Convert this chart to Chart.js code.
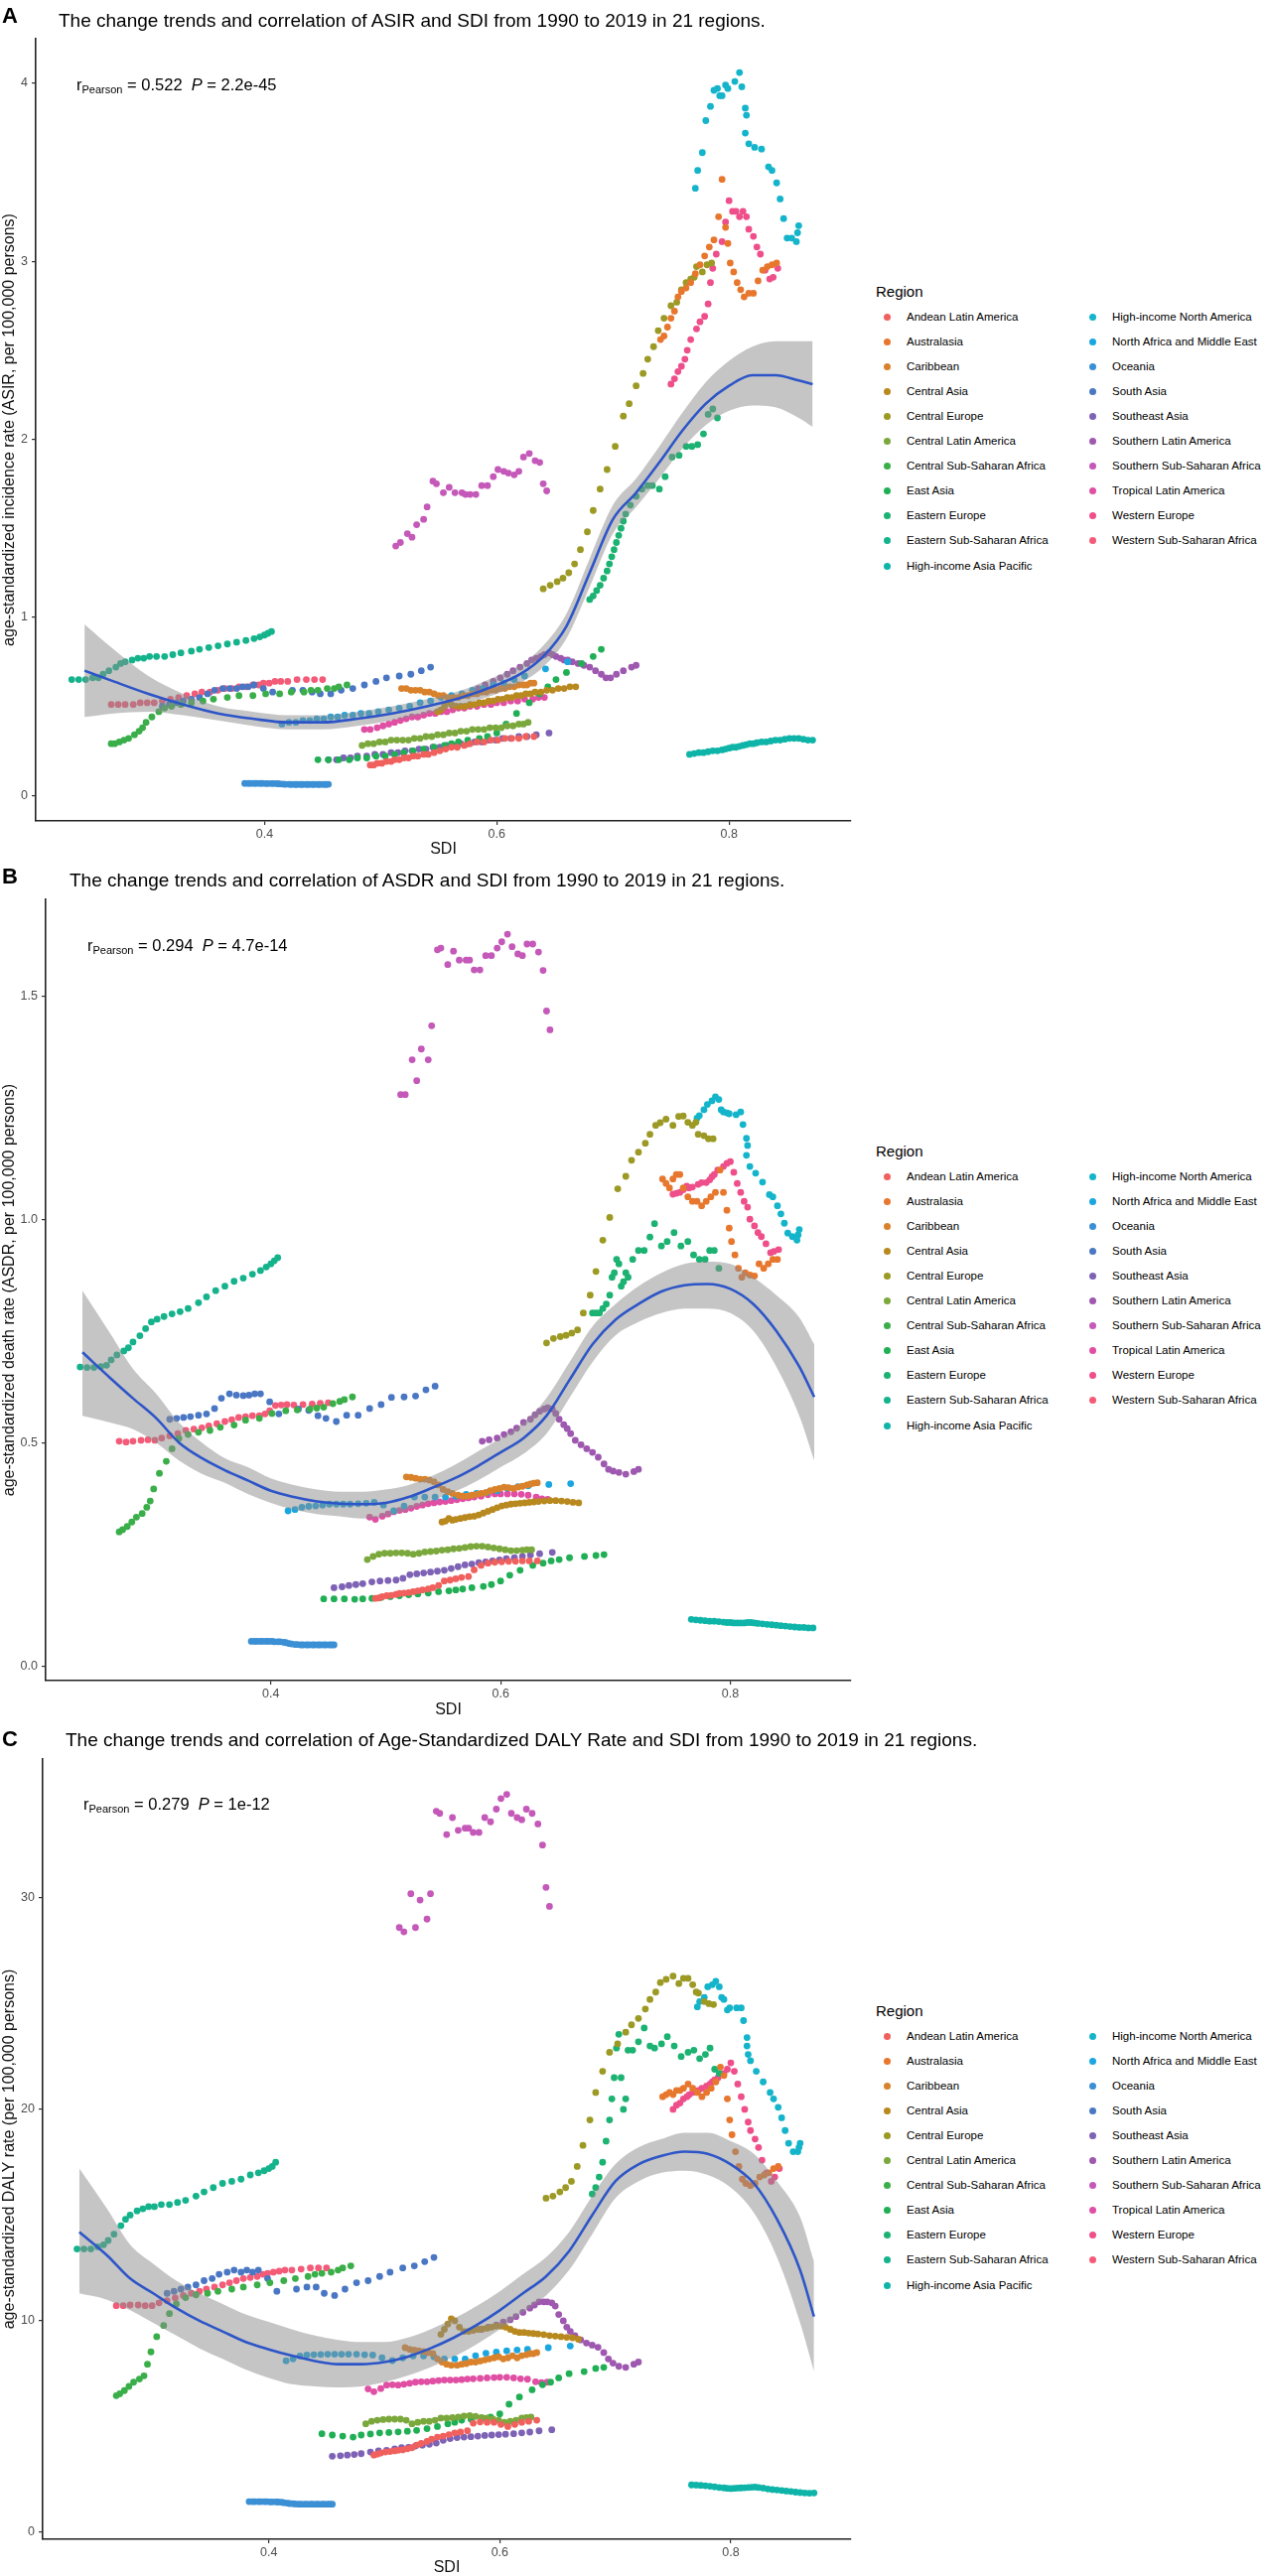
<!DOCTYPE html>
<html>
<head>
<meta charset="utf-8">
<script src="https://cdn.jsdelivr.net/npm/chart.js@4.4.0/dist/chart.umd.min.js"></script>
<style>
  body { margin: 0; width: 1279px; height: 2595px; overflow: hidden; background: #fff;
         font-family: "Liberation Sans", Arial, Helvetica, sans-serif; position: relative; color: #000; }
  canvas { position: absolute; left: 0; }
  .letter { position: absolute; left: 2px; font-weight: bold; font-size: 22px; line-height: 22px; }
  .title { position: absolute; font-size: 19px; line-height: 19px; white-space: nowrap; }
  .stat { position: absolute; font-size: 16.5px; line-height: 16px; white-space: nowrap; }
  .stat sub { font-size: 11px; vertical-align: -3px; }
  .leg { position: absolute; white-space: nowrap; }
  .legtitle { font-size: 15px; line-height: 15px; }
  .legitem { font-size: 11.5px; line-height: 13px; }
  .dot { position: absolute; width: 7px; height: 7px; border-radius: 50%; }
</style>
</head>
<body>
<canvas id="cA" width="870" height="867" style="top:0px"></canvas>
<canvas id="cB" width="870" height="867" style="top:866px"></canvas>
<canvas id="cC" width="870" height="863" style="top:1732px"></canvas>

<div class="letter" style="top:5px">A</div>
<div class="letter" style="top:872px">B</div>
<div class="letter" style="top:1741px">C</div>
<div class="title" style="left:59px; top:11px">The change trends and correlation of ASIR and SDI from 1990 to 2019 in 21 regions.</div>
<div class="title" style="left:70px; top:877px">The change trends and correlation of ASDR and SDI from 1990 to 2019 in 21 regions.</div>
<div class="title" style="left:66px; top:1743px">The change trends and correlation of Age-Standardized DALY Rate and SDI from 1990 to 2019 in 21 regions.</div>
<div class="stat" style="left:77px; top:77px">r<sub>Pearson</sub> = 0.522&nbsp; <i>P</i> = 2.2e-45</div>
<div class="stat" style="left:88px; top:944px">r<sub>Pearson</sub> = 0.294&nbsp; <i>P</i> = 4.7e-14</div>
<div class="stat" style="left:84px; top:1809px">r<sub>Pearson</sub> = 0.279&nbsp; <i>P</i> = 1e-12</div>

<script>
const FONT = '"Liberation Sans", Arial, Helvetica, sans-serif';

const regions = ["Andean Latin America", "Australasia", "Caribbean", "Central Asia", "Central Europe",
  "Central Latin America", "Central Sub-Saharan Africa", "East Asia", "Eastern Europe",
  "Eastern Sub-Saharan Africa", "High-income Asia Pacific", "High-income North America",
  "North Africa and Middle East", "Oceania", "South Asia", "Southeast Asia", "Southern Latin America",
  "Southern Sub-Saharan Africa", "Tropical Latin America", "Western Europe", "Western Sub-Saharan Africa"];
const colors = ["#F0605D", "#E8772E", "#D9822B", "#B8891E", "#9C9A24", "#7BA83C", "#3AAE49", "#20AF55",
  "#1BB272", "#14B38C", "#0FB4A8", "#14B4CB", "#1BA6E0", "#3B8FD4", "#4A77C4", "#7E62B5", "#9E58B0",
  "#C459B9", "#E04FA3", "#EE4F8A", "#F35B78"];

// SDI per region, 1990-2019
const sdiAndean = [0.491,0.494,0.497,0.501,0.505,0.509,0.512,0.516,0.520,0.524,0.528,0.532,0.537,0.541,0.546,0.551,0.556,0.561,0.566,0.572,0.577,0.583,0.589,0.595,0.601,0.607,0.613,0.619,0.625,0.632];
const sdiAustralasia = [0.741,0.744,0.747,0.750,0.753,0.756,0.759,0.763,0.767,0.771,0.775,0.779,0.783,0.787,0.791,0.794,0.797,0.799,0.801,0.804,0.807,0.810,0.813,0.817,0.821,0.825,0.829,0.833,0.837,0.841];
const sdiCaribbean = [0.518,0.522,0.526,0.530,0.534,0.538,0.542,0.546,0.550,0.554,0.558,0.563,0.567,0.571,0.575,0.579,0.583,0.587,0.591,0.595,0.599,0.603,0.607,0.611,0.615,0.619,0.623,0.626,0.629,0.632];
const sdiCentralAsia = [0.549,0.552,0.555,0.558,0.561,0.565,0.569,0.573,0.577,0.581,0.585,0.589,0.593,0.597,0.601,0.605,0.609,0.613,0.617,0.621,0.625,0.629,0.633,0.638,0.643,0.648,0.653,0.658,0.663,0.668];
const sdiCentralEurope = [0.640,0.646,0.652,0.657,0.662,0.667,0.672,0.678,0.683,0.689,0.695,0.702,0.709,0.714,0.720,0.726,0.730,0.735,0.739,0.744,0.750,0.755,0.759,0.763,0.767,0.770,0.772,0.777,0.781,0.785];
const sdiCentralLatAm = [0.484,0.489,0.494,0.499,0.504,0.509,0.514,0.519,0.524,0.529,0.534,0.539,0.544,0.549,0.554,0.559,0.564,0.569,0.574,0.579,0.584,0.589,0.594,0.599,0.604,0.609,0.614,0.619,0.623,0.627];
const sdiCentralSSA = [0.268,0.271,0.275,0.279,0.283,0.288,0.292,0.295,0.298,0.303,0.309,0.314,0.320,0.328,0.337,0.347,0.356,0.368,0.378,0.390,0.401,0.413,0.423,0.434,0.440,0.446,0.454,0.460,0.464,0.471];
const sdiEastAsia = [0.446,0.455,0.464,0.473,0.480,0.488,0.496,0.504,0.512,0.520,0.528,0.537,0.546,0.555,0.561,0.567,0.575,0.585,0.592,0.600,0.608,0.617,0.628,0.637,0.644,0.651,0.660,0.673,0.683,0.690];
const sdiEasternEurope = [0.680,0.683,0.686,0.689,0.692,0.695,0.697,0.699,0.701,0.703,0.705,0.707,0.709,0.711,0.715,0.720,0.725,0.730,0.734,0.740,0.745,0.751,0.757,0.763,0.768,0.773,0.778,0.782,0.786,0.790];
const sdiEasternSSA = [0.234,0.240,0.246,0.252,0.257,0.261,0.266,0.272,0.276,0.280,0.286,0.291,0.296,0.301,0.307,0.314,0.321,0.328,0.337,0.344,0.352,0.360,0.368,0.376,0.384,0.391,0.396,0.400,0.403,0.406];
const sdiHiAsiaPac = [0.766,0.770,0.774,0.778,0.782,0.786,0.790,0.794,0.797,0.800,0.803,0.806,0.809,0.812,0.815,0.818,0.821,0.824,0.828,0.832,0.836,0.840,0.844,0.848,0.852,0.856,0.860,0.864,0.868,0.872];
const sdiHiNorthAm = [0.771,0.773,0.777,0.780,0.784,0.787,0.790,0.792,0.794,0.797,0.799,0.805,0.809,0.811,0.814,0.814,0.815,0.817,0.822,0.828,0.834,0.837,0.841,0.844,0.847,0.850,0.854,0.858,0.859,0.860];
const sdiNorthAfricaME = [0.415,0.421,0.427,0.433,0.439,0.445,0.451,0.457,0.463,0.469,0.476,0.483,0.490,0.498,0.507,0.516,0.525,0.534,0.543,0.552,0.561,0.570,0.579,0.588,0.597,0.606,0.615,0.624,0.642,0.661];
const sdiOceania = [0.383,0.386,0.388,0.391,0.393,0.396,0.398,0.401,0.403,0.406,0.408,0.411,0.413,0.416,0.418,0.421,0.423,0.426,0.428,0.431,0.433,0.436,0.438,0.441,0.443,0.446,0.448,0.451,0.453,0.455];
const sdiSouthAsia = [0.312,0.318,0.324,0.330,0.337,0.344,0.351,0.357,0.364,0.370,0.376,0.381,0.386,0.391,0.399,0.407,0.424,0.433,0.441,0.448,0.457,0.466,0.476,0.486,0.496,0.505,0.516,0.526,0.535,0.543];
const sdiSoutheastAsia = [0.455,0.462,0.468,0.474,0.480,0.488,0.495,0.502,0.509,0.515,0.521,0.527,0.533,0.539,0.545,0.551,0.557,0.563,0.569,0.575,0.581,0.587,0.593,0.599,0.605,0.612,0.619,0.626,0.634,0.645];
const sdiSouthernLatAm = [0.584,0.590,0.597,0.603,0.609,0.614,0.620,0.626,0.630,0.634,0.638,0.641,0.645,0.648,0.651,0.655,0.658,0.661,0.665,0.670,0.675,0.680,0.685,0.690,0.694,0.698,0.703,0.709,0.716,0.720];
const sdiSouthernSSA = [0.513,0.517,0.523,0.527,0.531,0.537,0.540,0.545,0.548,0.554,0.559,0.564,0.570,0.573,0.577,0.582,0.587,0.592,0.597,0.601,0.606,0.610,0.615,0.619,0.623,0.628,0.633,0.637,0.640,0.643];
const sdiTropicalLatAm = [0.486,0.491,0.497,0.502,0.507,0.512,0.517,0.522,0.527,0.532,0.537,0.542,0.547,0.552,0.557,0.562,0.567,0.572,0.577,0.583,0.589,0.595,0.600,0.606,0.612,0.618,0.624,0.631,0.636,0.641];
const sdiWesternEurope = [0.750,0.753,0.756,0.759,0.762,0.764,0.767,0.772,0.775,0.779,0.782,0.784,0.786,0.789,0.794,0.797,0.800,0.803,0.806,0.809,0.812,0.815,0.817,0.821,0.824,0.827,0.831,0.835,0.838,0.842];
const sdiWesternSSA = [0.268,0.274,0.280,0.287,0.293,0.299,0.305,0.312,0.319,0.326,0.333,0.340,0.346,0.353,0.360,0.366,0.372,0.378,0.384,0.390,0.395,0.399,0.404,0.409,0.414,0.420,0.428,0.436,0.443,0.450];

// ASIR (panel A)
const asirAndean = [0.17,0.17,0.18,0.18,0.19,0.19,0.20,0.20,0.21,0.21,0.22,0.22,0.23,0.23,0.24,0.25,0.26,0.27,0.27,0.28,0.29,0.30,0.30,0.31,0.31,0.32,0.32,0.32,0.33,0.33];
const asirAustralasia = [2.56,2.58,2.63,2.68,2.72,2.80,2.83,2.85,2.88,2.93,2.98,3.03,3.08,3.12,3.25,3.46,3.19,3.10,2.99,2.94,2.88,2.84,2.80,2.82,2.82,2.89,2.95,2.97,2.98,2.99];
const asirCaribbean = [0.60,0.60,0.59,0.59,0.59,0.58,0.58,0.57,0.56,0.56,0.55,0.55,0.55,0.56,0.56,0.57,0.57,0.58,0.58,0.59,0.59,0.60,0.60,0.61,0.61,0.62,0.62,0.62,0.63,0.63];
const asirCentralAsia = [0.47,0.48,0.50,0.52,0.51,0.50,0.50,0.50,0.51,0.51,0.52,0.52,0.53,0.53,0.54,0.54,0.55,0.55,0.56,0.56,0.57,0.57,0.58,0.58,0.59,0.59,0.60,0.60,0.61,0.61];
const asirCentralEurope = [1.16,1.18,1.20,1.22,1.25,1.30,1.38,1.48,1.60,1.72,1.83,1.96,2.13,2.20,2.30,2.37,2.45,2.52,2.61,2.68,2.75,2.77,2.84,2.88,2.90,2.91,2.97,2.94,2.98,2.99];
const asirCentralLatAm = [0.28,0.29,0.29,0.30,0.30,0.31,0.31,0.31,0.31,0.32,0.32,0.33,0.33,0.34,0.34,0.35,0.35,0.36,0.36,0.37,0.37,0.37,0.38,0.38,0.38,0.39,0.39,0.40,0.40,0.41];
const asirCentralSSA = [0.29,0.29,0.30,0.31,0.32,0.34,0.36,0.38,0.41,0.44,0.47,0.49,0.50,0.51,0.52,0.53,0.54,0.55,0.56,0.56,0.57,0.57,0.58,0.58,0.59,0.59,0.60,0.60,0.61,0.62];
const asirEastAsia = [0.20,0.20,0.20,0.20,0.21,0.21,0.22,0.22,0.23,0.24,0.25,0.26,0.27,0.28,0.29,0.30,0.31,0.32,0.33,0.35,0.40,0.46,0.52,0.57,0.61,0.65,0.69,0.74,0.78,0.82];
const asirEasternEurope = [1.10,1.12,1.15,1.18,1.22,1.26,1.30,1.34,1.38,1.42,1.46,1.50,1.54,1.58,1.63,1.68,1.72,1.74,1.74,1.72,1.79,1.90,1.91,1.96,1.96,1.97,2.03,2.14,2.17,2.12];
const asirEasternSSA = [0.65,0.65,0.65,0.66,0.66,0.68,0.70,0.72,0.74,0.75,0.76,0.77,0.77,0.78,0.78,0.78,0.79,0.80,0.81,0.82,0.83,0.84,0.85,0.86,0.87,0.88,0.89,0.90,0.91,0.92];
const asirHiAsiaPac = [0.230,0.235,0.240,0.240,0.245,0.250,0.250,0.255,0.260,0.265,0.270,0.270,0.275,0.280,0.285,0.290,0.290,0.295,0.300,0.300,0.305,0.310,0.310,0.315,0.320,0.320,0.320,0.315,0.310,0.310];
const asirHiNorthAm = [3.41,3.51,3.61,3.79,3.87,3.96,3.97,3.93,3.93,3.99,3.97,4.01,4.06,3.98,3.86,3.72,3.82,3.66,3.64,3.63,3.53,3.51,3.44,3.35,3.24,3.13,3.13,3.11,3.16,3.20];
const asirNorthAfricaME = [0.40,0.41,0.41,0.42,0.42,0.43,0.43,0.44,0.44,0.45,0.45,0.46,0.46,0.47,0.48,0.49,0.50,0.52,0.53,0.55,0.56,0.57,0.59,0.60,0.62,0.63,0.65,0.67,0.71,0.75];
const asirOceania = [0.067,0.067,0.067,0.067,0.067,0.067,0.067,0.066,0.066,0.066,0.066,0.065,0.064,0.063,0.062,0.062,0.061,0.061,0.061,0.061,0.061,0.061,0.061,0.061,0.061,0.061,0.061,0.061,0.061,0.062];
const asirSouthAsia = [0.50,0.51,0.52,0.53,0.54,0.55,0.57,0.59,0.60,0.60,0.60,0.61,0.61,0.62,0.60,0.58,0.59,0.59,0.58,0.57,0.57,0.59,0.60,0.62,0.64,0.66,0.67,0.68,0.70,0.72];
const asirSoutheastAsia = [0.20,0.20,0.21,0.21,0.22,0.22,0.23,0.23,0.24,0.24,0.25,0.25,0.26,0.26,0.27,0.27,0.28,0.28,0.29,0.29,0.30,0.30,0.31,0.31,0.32,0.32,0.33,0.33,0.34,0.35];
const asirSouthernLatAm = [0.60,0.62,0.64,0.66,0.68,0.70,0.72,0.74,0.76,0.77,0.78,0.79,0.80,0.79,0.78,0.77,0.76,0.76,0.75,0.74,0.73,0.72,0.70,0.68,0.66,0.66,0.68,0.70,0.72,0.73];
const asirSouthernSSA = [1.40,1.42,1.47,1.45,1.52,1.55,1.62,1.765,1.75,1.70,1.73,1.70,1.70,1.69,1.69,1.69,1.74,1.74,1.79,1.83,1.82,1.81,1.80,1.82,1.90,1.92,1.88,1.87,1.75,1.71];
const asirTropicalLatAm = [0.37,0.37,0.38,0.39,0.40,0.41,0.42,0.43,0.44,0.44,0.45,0.46,0.46,0.47,0.47,0.48,0.49,0.49,0.50,0.50,0.51,0.51,0.52,0.52,0.53,0.53,0.54,0.54,0.55,0.55];
const asirWesternEurope = [2.31,2.34,2.38,2.41,2.45,2.50,2.56,2.62,2.66,2.69,2.76,2.88,2.96,3.04,3.11,3.22,3.34,3.28,3.28,3.25,3.28,3.25,3.18,3.14,3.08,3.04,2.95,2.90,2.91,2.96];
const asirWesternSSA = [0.51,0.51,0.51,0.51,0.52,0.52,0.52,0.53,0.54,0.55,0.56,0.57,0.58,0.58,0.59,0.60,0.60,0.61,0.61,0.62,0.62,0.63,0.63,0.64,0.64,0.64,0.65,0.65,0.65,0.65];

// ASDR (panel B)
const asdrAndean = [0.151,0.152,0.155,0.157,0.158,0.160,0.162,0.163,0.164,0.166,0.168,0.170,0.172,0.175,0.180,0.190,0.192,0.195,0.198,0.200,0.215,0.225,0.230,0.232,0.233,0.234,0.234,0.235,0.235,0.235];
const asdrAustralasia = [1.09,1.08,1.07,1.09,1.10,1.10,1.07,1.05,1.04,1.04,1.03,1.04,1.05,1.06,1.11,1.06,1.02,0.98,0.95,0.92,0.89,0.87,0.88,0.875,0.873,0.90,0.89,0.90,0.91,0.91];
const asdrCaribbean = [0.423,0.422,0.420,0.418,0.418,0.416,0.412,0.405,0.395,0.390,0.386,0.382,0.380,0.380,0.382,0.384,0.386,0.388,0.392,0.395,0.397,0.400,0.399,0.397,0.400,0.402,0.405,0.407,0.409,0.410];
const asdrCentralAsia = [0.322,0.324,0.330,0.326,0.328,0.330,0.332,0.334,0.335,0.338,0.342,0.346,0.350,0.354,0.358,0.360,0.362,0.363,0.364,0.365,0.366,0.367,0.368,0.369,0.370,0.370,0.369,0.368,0.366,0.365];
const asdrCentralEurope = [0.723,0.733,0.737,0.740,0.745,0.752,0.790,0.830,0.883,0.953,1.004,1.068,1.096,1.132,1.150,1.170,1.190,1.210,1.216,1.224,1.210,1.230,1.231,1.217,1.210,1.217,1.190,1.187,1.180,1.180];
const asdrCentralLatAm = [0.238,0.245,0.250,0.252,0.252,0.253,0.253,0.252,0.250,0.252,0.255,0.256,0.257,0.259,0.260,0.262,0.263,0.265,0.267,0.268,0.268,0.266,0.264,0.262,0.260,0.258,0.258,0.259,0.260,0.260];
const asdrCentralSSA = [0.300,0.305,0.312,0.322,0.333,0.341,0.355,0.369,0.396,0.431,0.458,0.486,0.509,0.518,0.523,0.527,0.534,0.539,0.550,0.554,0.565,0.571,0.573,0.575,0.577,0.579,0.587,0.592,0.596,0.602];
const asdrEastAsia = [0.150,0.150,0.150,0.149,0.150,0.151,0.153,0.155,0.157,0.159,0.161,0.163,0.166,0.168,0.170,0.172,0.175,0.178,0.182,0.190,0.203,0.214,0.225,0.230,0.235,0.238,0.242,0.245,0.247,0.249];
const asdrEasternEurope = [0.79,0.79,0.79,0.80,0.81,0.83,0.87,0.88,0.91,0.90,0.85,0.86,0.88,0.87,0.91,0.93,0.93,0.96,0.99,0.94,0.95,0.97,0.94,0.95,0.92,0.91,0.91,0.93,0.93,0.89];
const asdrEasternSSA = [0.669,0.668,0.668,0.670,0.673,0.685,0.696,0.705,0.712,0.725,0.739,0.755,0.770,0.776,0.782,0.788,0.793,0.800,0.813,0.826,0.840,0.850,0.861,0.868,0.877,0.885,0.893,0.900,0.907,0.914];
const asdrHiAsiaPac = [0.104,0.103,0.102,0.101,0.100,0.100,0.099,0.098,0.097,0.097,0.096,0.096,0.096,0.096,0.097,0.097,0.096,0.095,0.094,0.093,0.092,0.091,0.090,0.089,0.088,0.087,0.086,0.086,0.085,0.085];
const asdrHiNorthAm = [1.226,1.232,1.245,1.257,1.265,1.274,1.268,1.245,1.240,1.238,1.236,1.234,1.240,1.212,1.181,1.143,1.165,1.118,1.103,1.083,1.055,1.050,1.030,1.012,0.991,0.969,0.961,0.953,0.965,0.977];
const asdrNorthAfricaME = [0.347,0.350,0.355,0.357,0.358,0.360,0.362,0.362,0.362,0.362,0.363,0.364,0.366,0.360,0.347,0.358,0.378,0.378,0.378,0.378,0.380,0.384,0.386,0.388,0.392,0.398,0.401,0.403,0.406,0.408];
const asdrOceania = [0.055,0.055,0.055,0.055,0.055,0.055,0.055,0.055,0.054,0.054,0.054,0.053,0.052,0.050,0.049,0.048,0.048,0.047,0.047,0.047,0.047,0.047,0.047,0.047,0.047,0.047,0.047,0.047,0.047,0.047];
const asdrSouthAsia = [0.552,0.554,0.556,0.558,0.561,0.564,0.576,0.599,0.609,0.606,0.605,0.606,0.609,0.609,0.591,0.564,0.575,0.572,0.560,0.554,0.547,0.561,0.561,0.576,0.585,0.601,0.602,0.604,0.618,0.626];
const asdrSoutheastAsia = [0.175,0.177,0.180,0.182,0.184,0.188,0.190,0.191,0.192,0.196,0.204,0.206,0.208,0.210,0.212,0.214,0.218,0.222,0.226,0.228,0.231,0.233,0.235,0.237,0.240,0.242,0.245,0.248,0.251,0.254];
const asdrSouthernLatAm = [0.503,0.506,0.510,0.518,0.524,0.532,0.545,0.552,0.562,0.570,0.575,0.578,0.575,0.565,0.552,0.540,0.531,0.520,0.505,0.495,0.486,0.478,0.467,0.452,0.440,0.436,0.433,0.429,0.435,0.440];
const asdrSouthernSSA = [1.279,1.279,1.357,1.310,1.381,1.357,1.433,1.603,1.607,1.570,1.600,1.580,1.580,1.580,1.558,1.558,1.590,1.590,1.607,1.621,1.638,1.610,1.594,1.590,1.616,1.616,1.598,1.557,1.466,1.424];
const asdrTropicalLatAm = [0.333,0.328,0.335,0.340,0.345,0.348,0.350,0.353,0.357,0.360,0.363,0.365,0.367,0.368,0.370,0.372,0.374,0.376,0.378,0.380,0.383,0.385,0.385,0.385,0.385,0.384,0.382,0.378,0.374,0.373];
const asdrWesternEurope = [1.056,1.058,1.060,1.066,1.074,1.070,1.072,1.078,1.082,1.082,1.088,1.095,1.100,1.110,1.118,1.125,1.129,1.105,1.080,1.060,1.040,1.027,1.000,0.985,0.970,0.961,0.945,0.925,0.928,0.932];
const asdrWesternSSA = [0.503,0.501,0.503,0.505,0.506,0.505,0.510,0.515,0.520,0.527,0.530,0.533,0.537,0.542,0.547,0.551,0.556,0.558,0.560,0.560,0.564,0.571,0.583,0.584,0.585,0.584,0.585,0.586,0.588,0.589];

// Age-standardized DALY rate (panel C)
const dalyAndean = [3.65,3.70,3.75,3.80,3.82,3.85,3.88,3.90,3.95,4.00,4.12,4.20,4.30,4.40,4.50,4.55,4.62,4.70,4.74,4.80,5.16,5.22,5.20,5.20,5.10,5.00,5.10,5.20,5.25,5.30];
const dalyAustralasia = [20.6,20.7,20.8,20.7,20.9,20.9,21.0,21.2,21.0,20.8,20.6,20.8,21.0,21.3,22.0,21.6,20.5,19.5,18.8,18.0,17.3,16.7,16.5,16.4,16.5,16.8,16.9,17.0,17.2,17.3];
const dalyCaribbean = [8.73,8.65,8.62,8.58,8.55,8.50,8.45,8.20,8.05,7.95,7.90,7.90,7.95,7.98,8.05,8.05,8.10,8.15,8.20,8.25,8.30,8.20,8.25,8.35,8.25,8.35,8.40,8.45,8.45,8.50];
const dalyCentralAsia = [9.36,9.60,9.85,10.10,10.00,9.70,9.50,9.50,9.55,9.60,9.62,9.65,9.70,9.75,9.75,9.70,9.60,9.50,9.45,9.45,9.42,9.40,9.38,9.35,9.30,9.28,9.25,9.22,9.20,9.13];
const dalyCentralEurope = [15.8,15.9,16.1,16.3,16.6,17.3,18.3,19.5,20.8,21.8,22.7,23.1,23.65,24.0,24.3,24.75,25.2,25.55,26.0,26.15,26.3,25.95,26.2,26.2,25.9,25.55,25.5,25.1,25.0,24.96];
const dalyCentralLatAm = [5.13,5.25,5.30,5.33,5.35,5.35,5.35,5.30,5.13,5.20,5.25,5.25,5.30,5.40,5.40,5.42,5.45,5.50,5.52,5.48,5.43,5.40,5.35,5.30,5.20,5.25,5.30,5.40,5.43,5.45];
const dalyCentralSSA = [6.46,6.55,6.70,6.90,7.10,7.25,7.40,7.95,8.53,9.25,9.78,10.34,10.80,11.10,11.23,11.30,11.40,11.50,11.60,11.70,11.80,11.90,12.00,12.10,12.20,12.25,12.30,12.40,12.50,12.60];
const dalyEastAsia = [4.66,4.60,4.55,4.50,4.60,4.65,4.70,4.72,4.75,4.78,4.82,4.90,5.00,5.13,5.20,5.30,5.35,5.40,5.45,5.60,6.06,6.40,6.74,6.98,7.10,7.30,7.50,7.60,7.75,7.80];
const dalyEasternEurope = [16.0,16.3,16.8,17.5,18.5,19.5,20.5,21.5,22.9,23.55,21.5,20.0,20.5,22.8,22.8,23.2,23.85,23.0,22.9,23.1,23.44,23.0,22.5,22.7,22.8,22.4,22.6,22.9,21.9,21.7];
const dalyEasternSSA = [13.4,13.4,13.4,13.5,13.6,13.8,14.1,14.5,14.8,15.0,15.2,15.3,15.4,15.4,15.5,15.5,15.6,15.7,15.9,16.1,16.3,16.5,16.6,16.7,16.9,17.0,17.1,17.2,17.3,17.5];
const dalyHiAsiaPac = [2.24,2.23,2.22,2.20,2.18,2.15,2.12,2.10,2.08,2.07,2.08,2.09,2.10,2.11,2.12,2.13,2.14,2.12,2.09,2.05,2.02,2.00,1.98,1.95,1.93,1.90,1.88,1.86,1.85,1.86];
const dalyHiNorthAm = [24.85,25.1,25.3,25.8,25.9,26.06,25.8,25.3,25.2,24.7,24.8,24.8,24.8,24.2,23.4,23.0,22.6,22.3,21.8,21.3,20.8,20.5,20.1,19.6,19.0,18.4,18.0,18.0,18.2,18.4];
const dalyNorthAfricaME = [8.11,8.20,8.34,8.38,8.40,8.41,8.42,8.42,8.42,8.42,8.42,8.40,8.38,8.25,8.12,8.25,8.34,8.34,8.30,8.20,8.20,8.20,8.35,8.47,8.52,8.58,8.62,8.65,8.73,8.81];
const dalyOceania = [1.45,1.45,1.45,1.45,1.45,1.45,1.45,1.44,1.44,1.44,1.43,1.42,1.40,1.38,1.36,1.35,1.34,1.33,1.33,1.33,1.33,1.33,1.33,1.33,1.33,1.33,1.33,1.33,1.33,1.33];
const dalySouthAsia = [11.3,11.4,11.5,11.6,11.7,11.9,12.0,12.2,12.3,12.4,12.3,12.4,12.3,12.4,12.0,11.4,11.5,11.6,11.6,11.3,11.2,11.5,11.8,11.9,12.1,12.3,12.5,12.6,12.8,13.0];
const dalySoutheastAsia = [3.60,3.62,3.65,3.68,3.72,3.80,3.85,3.88,3.95,4.00,4.02,4.08,4.12,4.16,4.22,4.35,4.43,4.48,4.50,4.52,4.55,4.58,4.60,4.62,4.64,4.66,4.70,4.74,4.80,4.85];
const dalySouthernLatAm = [9.60,9.70,9.80,9.95,10.05,10.20,10.40,10.60,10.75,10.90,10.90,10.90,10.85,10.70,10.30,10.00,9.70,9.50,9.30,9.10,8.95,8.85,8.75,8.50,8.20,8.00,7.85,7.80,7.95,8.05];
const dalySouthernSSA = [28.6,28.4,30.2,28.6,29.9,29.0,30.2,34.1,34.0,33.0,33.8,33.2,33.3,33.3,33.1,33.1,33.8,33.6,34.2,34.7,34.9,34.0,33.8,33.7,34.2,34.0,33.5,32.5,30.5,29.6];
const dalyTropicalLatAm = [6.78,6.65,6.80,6.96,6.98,6.96,7.00,7.05,7.10,7.12,7.12,7.15,7.18,7.20,7.20,7.20,7.22,7.25,7.26,7.28,7.30,7.32,7.33,7.33,7.30,7.26,7.24,7.12,7.08,7.10];
const dalyWesternEurope = [20.0,20.2,20.3,20.5,20.6,20.7,20.8,20.9,21.0,21.1,21.2,21.3,21.4,21.5,21.7,21.9,22.2,21.8,21.2,20.6,20.0,19.4,19.0,18.6,18.2,17.6,17.0,16.6,16.8,17.2];
const dalyWesternSSA = [10.72,10.72,10.75,10.75,10.72,10.72,10.85,10.95,11.08,11.20,11.30,11.40,11.50,11.60,11.70,11.80,11.90,12.00,12.05,12.10,12.20,12.25,12.30,12.35,12.40,12.40,12.45,12.50,12.50,12.50];

// loess smooth with confidence band
const smoothXA = [0.245,0.27,0.30,0.33,0.36,0.39,0.42,0.45,0.48,0.51,0.54,0.57,0.60,0.62,0.64,0.66,0.68,0.70,0.72,0.74,0.76,0.78,0.80,0.82,0.84,0.86,0.872];
const smoothFitA = [0.70,0.64,0.57,0.51,0.46,0.43,0.41,0.41,0.43,0.46,0.50,0.55,0.62,0.68,0.78,0.95,1.25,1.55,1.70,1.87,2.05,2.20,2.30,2.36,2.36,2.33,2.31];
const smoothLoA = [0.44,0.46,0.47,0.45,0.42,0.39,0.37,0.37,0.39,0.42,0.46,0.51,0.57,0.63,0.72,0.88,1.17,1.47,1.62,1.78,1.95,2.08,2.16,2.19,2.18,2.12,2.07];
const smoothHiA = [0.96,0.82,0.67,0.57,0.50,0.47,0.45,0.45,0.47,0.50,0.54,0.59,0.67,0.73,0.84,1.02,1.33,1.63,1.78,1.96,2.15,2.32,2.44,2.52,2.55,2.55,2.55];

const smoothXB = [0.236,0.26,0.28,0.30,0.32,0.34,0.36,0.38,0.40,0.42,0.44,0.46,0.48,0.50,0.52,0.54,0.56,0.58,0.60,0.62,0.64,0.66,0.68,0.70,0.72,0.74,0.76,0.78,0.80,0.82,0.84,0.86,0.873];
const smoothFitB = [0.702,0.645,0.599,0.555,0.50,0.465,0.438,0.415,0.392,0.378,0.368,0.363,0.362,0.365,0.378,0.398,0.420,0.447,0.478,0.510,0.56,0.64,0.72,0.775,0.81,0.838,0.852,0.855,0.844,0.81,0.75,0.67,0.602];
const smoothLoB = [0.56,0.545,0.53,0.50,0.46,0.43,0.41,0.385,0.365,0.35,0.34,0.335,0.33,0.335,0.35,0.37,0.39,0.415,0.445,0.475,0.52,0.60,0.68,0.74,0.77,0.79,0.80,0.80,0.79,0.75,0.67,0.56,0.46];
const smoothHiB = [0.84,0.745,0.665,0.61,0.545,0.50,0.465,0.445,0.42,0.405,0.395,0.39,0.39,0.395,0.405,0.425,0.45,0.48,0.51,0.545,0.60,0.68,0.76,0.81,0.85,0.88,0.90,0.905,0.90,0.87,0.83,0.78,0.72];

const smoothXC = [0.236,0.26,0.28,0.30,0.32,0.34,0.36,0.38,0.40,0.42,0.44,0.46,0.48,0.50,0.52,0.54,0.56,0.58,0.60,0.62,0.64,0.66,0.68,0.70,0.72,0.74,0.76,0.78,0.80,0.82,0.84,0.86,0.872];
const smoothFitC = [14.2,13.1,12.0,11.3,10.6,10.0,9.5,9.0,8.65,8.35,8.1,7.95,7.95,8.05,8.3,8.7,9.2,9.8,10.5,11.3,12.1,13.3,15.0,16.6,17.4,17.8,18.0,17.9,17.4,16.5,14.8,12.4,10.2];
const smoothLoC = [11.3,11.0,10.5,9.9,9.3,8.7,8.2,7.7,7.3,7.0,6.9,6.85,6.9,7.1,7.4,7.8,8.3,8.9,9.6,10.4,11.2,12.4,14.1,15.8,16.6,17.0,17.1,16.9,16.3,15.1,13.0,9.9,7.6];
const smoothHiC = [17.2,15.3,13.6,12.7,11.9,11.3,10.8,10.3,9.95,9.6,9.3,9.1,9.0,9.0,9.2,9.6,10.1,10.7,11.4,12.2,13.0,14.2,15.9,17.4,18.2,18.6,18.9,18.9,18.5,17.9,16.6,14.9,12.8];

const sdiAll = [sdiAndean, sdiAustralasia, sdiCaribbean, sdiCentralAsia, sdiCentralEurope, sdiCentralLatAm,
  sdiCentralSSA, sdiEastAsia, sdiEasternEurope, sdiEasternSSA, sdiHiAsiaPac, sdiHiNorthAm, sdiNorthAfricaME,
  sdiOceania, sdiSouthAsia, sdiSoutheastAsia, sdiSouthernLatAm, sdiSouthernSSA, sdiTropicalLatAm,
  sdiWesternEurope, sdiWesternSSA];
const asirAll = [asirAndean, asirAustralasia, asirCaribbean, asirCentralAsia, asirCentralEurope, asirCentralLatAm,
  asirCentralSSA, asirEastAsia, asirEasternEurope, asirEasternSSA, asirHiAsiaPac, asirHiNorthAm, asirNorthAfricaME,
  asirOceania, asirSouthAsia, asirSoutheastAsia, asirSouthernLatAm, asirSouthernSSA, asirTropicalLatAm,
  asirWesternEurope, asirWesternSSA];
const asdrAll = [asdrAndean, asdrAustralasia, asdrCaribbean, asdrCentralAsia, asdrCentralEurope, asdrCentralLatAm,
  asdrCentralSSA, asdrEastAsia, asdrEasternEurope, asdrEasternSSA, asdrHiAsiaPac, asdrHiNorthAm, asdrNorthAfricaME,
  asdrOceania, asdrSouthAsia, asdrSoutheastAsia, asdrSouthernLatAm, asdrSouthernSSA, asdrTropicalLatAm,
  asdrWesternEurope, asdrWesternSSA];
const dalyAll = [dalyAndean, dalyAustralasia, dalyCaribbean, dalyCentralAsia, dalyCentralEurope, dalyCentralLatAm,
  dalyCentralSSA, dalyEastAsia, dalyEasternEurope, dalyEasternSSA, dalyHiAsiaPac, dalyHiNorthAm, dalyNorthAfricaME,
  dalyOceania, dalySouthAsia, dalySoutheastAsia, dalySouthernLatAm, dalySouthernSSA, dalyTropicalLatAm,
  dalyWesternEurope, dalyWesternSSA];

function pts(xs, ys) {
  return xs.map(function (x, i) { return { x: x, y: ys[i] }; });
}

function makePanel(id, values, sx, fit, lo, hi, opt) {
  const datasets = [
    { type: "line", data: pts(sx, fit), borderColor: "#2d55c8", borderWidth: 2.6, pointRadius: 0,
      fill: false, cubicInterpolationMode: "monotone", order: 0 },
    { type: "line", data: pts(sx, hi), borderColor: "transparent", borderWidth: 0, pointRadius: 0,
      backgroundColor: "rgba(140,140,140,0.5)", fill: "+1", cubicInterpolationMode: "monotone", order: 1 },
    { type: "line", data: pts(sx, lo), borderColor: "transparent", borderWidth: 0, pointRadius: 0,
      fill: false, cubicInterpolationMode: "monotone", order: 2 },
  ];
  regions.forEach(function (name, i) {
    datasets.push({
      type: "scatter", label: name, data: pts(sdiAll[i], values[i]),
      backgroundColor: colors[i], borderWidth: 0, pointRadius: 3.4, pointHoverRadius: 3.4, order: 3,
    });
  });

  return new Chart(document.getElementById(id), {
    type: "scatter",
    data: { datasets: datasets },
    options: {
      responsive: false,
      animation: false,
      events: [],
      layout: { padding: { top: opt.padTop, right: 13, left: 0, bottom: 0 } },
      plugins: { legend: { display: false }, tooltip: { enabled: false } },
      scales: {
        x: {
          type: "linear", min: opt.xMin, max: opt.xMax,
          afterBuildTicks: function (s) { s.ticks = [0.4, 0.6, 0.8].map(function (v) { return { value: v }; }); },
          afterFit: function (s) { s.height = opt.xH; },
          ticks: { color: "#4d4d4d", font: { family: FONT, size: 12.5 }, padding: 2,
                   callback: function (v) { return v.toFixed(1); } },
          grid: { display: true, drawOnChartArea: false, drawTicks: true, tickLength: 4, color: "#333", lineWidth: 1.2 },
          border: { display: true, color: "#222", width: 1.6 },
          title: { display: true, text: "SDI", color: "#111",
                   font: { family: FONT, size: 16, lineHeight: 1 }, padding: { top: 0, bottom: opt.titlePad } },
        },
        y: {
          type: "linear", min: opt.yMin, max: opt.yMax,
          afterBuildTicks: function (s) { s.ticks = opt.yTicks.map(function (v) { return { value: v }; }); },
          afterFit: function (s) { s.width = opt.yW; },
          ticks: { color: "#4d4d4d", font: { family: FONT, size: 12.5 }, padding: 4, callback: opt.fmt },
          grid: { display: true, drawOnChartArea: false, drawTicks: true, tickLength: 4, color: "#333", lineWidth: 1.2 },
          border: { display: true, color: "#222", width: 1.6 },
          title: { display: true, text: opt.yTitle, color: "#111",
                   font: { family: FONT, size: 16, lineHeight: 1.2 }, padding: { top: 0, bottom: 0 } },
        },
      },
    },
  });
}

makePanel("cA", asirAll, smoothXA, smoothFitA, smoothLoA, smoothHiA, {
  padTop: 39, xH: 40, yW: 36, xMin: 0.203, xMax: 0.905, yMin: -0.144, yMax: 4.25,
  yTicks: [0, 1, 2, 3, 4], fmt: function (v) { return String(v); }, titlePad: 3,
  yTitle: "age-standardized incidence rate (ASIR, per 100,000 persons)",
});
makePanel("cB", asdrAll, smoothXB, smoothFitB, smoothLoB, smoothHiB, {
  padTop: 40, xH: 40, yW: 46, xMin: 0.204, xMax: 0.905, yMin: -0.033, yMax: 1.716,
  yTicks: [0, 0.5, 1, 1.5], fmt: function (v) { return v.toFixed(1); }, titlePad: 2,
  yTitle: "age-standardized death rate (ASDR, per 100,000 persons)",
});
makePanel("cC", dalyAll, smoothXC, smoothFitC, smoothLoC, smoothHiC, {
  padTop: 40, xH: 37, yW: 43, xMin: 0.2043, xMax: 0.904, yMin: -0.33, yMax: 36.57,
  yTicks: [0, 10, 20, 30], fmt: function (v) { return String(v); }, titlePad: 0,
  yTitle: "age-standardized DALY rate (per 100,000 persons)",
});

// legends, one per panel (two columns like the original)
function addLegend(firstY) {
  const col1Dot = 893, col2Dot = 1100, rowGap = 25.1;
  const t = document.createElement("div");
  t.className = "leg legtitle";
  t.textContent = "Region";
  t.style.left = "882px";
  t.style.top = (firstY - 26 - 7.5) + "px";
  document.body.appendChild(t);
  regions.forEach(function (name, i) {
    const col = i < 11 ? 0 : 1;
    const row = i < 11 ? i : i - 11;
    const cy = firstY + row * rowGap;
    const dx = col === 0 ? col1Dot : col2Dot;
    const d = document.createElement("div");
    d.className = "dot";
    d.style.background = colors[i];
    d.style.left = (dx - 3.5) + "px";
    d.style.top = (cy - 3.5) + "px";
    document.body.appendChild(d);
    const l = document.createElement("div");
    l.className = "leg legitem";
    l.textContent = name;
    l.style.left = (dx + 20) + "px";
    l.style.top = (cy - 6.5) + "px";
    document.body.appendChild(l);
  });
}
addLegend(319);
addLegend(1185);
addLegend(2051);
</script>
</body>
</html>
